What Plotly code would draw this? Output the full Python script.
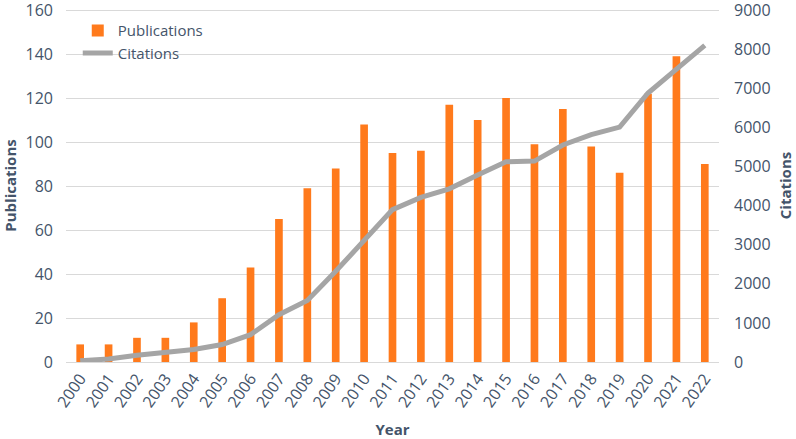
import plotly.graph_objects as go

# data
years = [str(y) for y in range(2000, 2023)]
publications = [8, 8, 11, 11, 18, 29, 43, 65, 79, 88, 108, 95, 96, 117, 110, 120, 99, 115, 98, 86, 122, 139, 90]
citations = [30, 76, 170, 236, 320, 447, 700, 1208, 1572, 2320, 3110, 3897, 4209, 4429, 4784, 5122, 5139, 5550, 5814, 6009, 6880, 7490, 8100]

text_col = '#44546A'
font_name = 'Open Sans'

bars = go.Bar(
    x = years,
    y = publications,
    name = 'Publications',
    marker = dict(color = '#FF7A1C', line = dict(width = 0)),
    yaxis = 'y'
)

line = go.Scatter(
    x = years,
    y = citations,
    name = 'Citations',
    mode = 'lines',
    line = dict(color = '#A5A5A5', width = 5),
    yaxis = 'y2'
)

# a hair of headroom so the top gridline is kept
top = 160.5

layout = go.Layout(
    width = 796,
    height = 439,
    margin = dict(l = 66, r = 77, t = 9, b = 77),
    plot_bgcolor = 'white',
    paper_bgcolor = 'white',
    font = dict(family = font_name, size = 15, color = text_col),
    bargap = 0.73,
    showlegend = True,
    legend = dict(
        x = 0.018, y = 0.985, xanchor = 'left', yanchor = 'top',
        bgcolor = 'rgba(0,0,0,0)', font = dict(size = 15, color = text_col),
        tracegroupgap = 0, itemwidth = 30
    ),
    xaxis = dict(
        type = 'category',
        tickangle = -55,
        automargin = False,
        showgrid = False,
        showline = True,
        linecolor = '#D9D9D9',
        linewidth = 1,
        ticks = '',
        tickfont = dict(size = 16),
        title = dict(text = '<b>Year</b>', font = dict(size = 15), standoff = 14)
    ),
    yaxis = dict(
        range = [0, top],
        tickvals = [0, 20, 40, 60, 80, 100, 120, 140, 160],
        automargin = False,
        ticklabeloverflow = 'allow',
        showgrid = True,
        gridcolor = '#D9D9D9',
        zeroline = False,
        showline = False,
        ticklabelstandoff = 12,
        tickfont = dict(size = 16),
        title = dict(text = '<b>Publications</b>', font = dict(size = 15), standoff = 6)
    ),
    yaxis2 = dict(
        range = [0, 9000 * top / 160],
        tickvals = [0, 1000, 2000, 3000, 4000, 5000, 6000, 7000, 8000, 9000],
        overlaying = 'y',
        side = 'right',
        automargin = False,
        ticklabeloverflow = 'allow',
        showgrid = False,
        zeroline = False,
        showline = False,
        ticklabelstandoff = 14,
        tickfont = dict(size = 16),
        title = dict(text = '<b>Citations</b>', font = dict(size = 15), standoff = 10)
    )
)

fig = go.Figure(data = [bars, line], layout = layout)
# the page body has a default margin, drop it so the figure sits at 0,0
fig.write_html('out.html', config = {'displayModeBar': False},
               post_script = "document.body.style.margin='0';document.body.style.overflow='hidden';")
